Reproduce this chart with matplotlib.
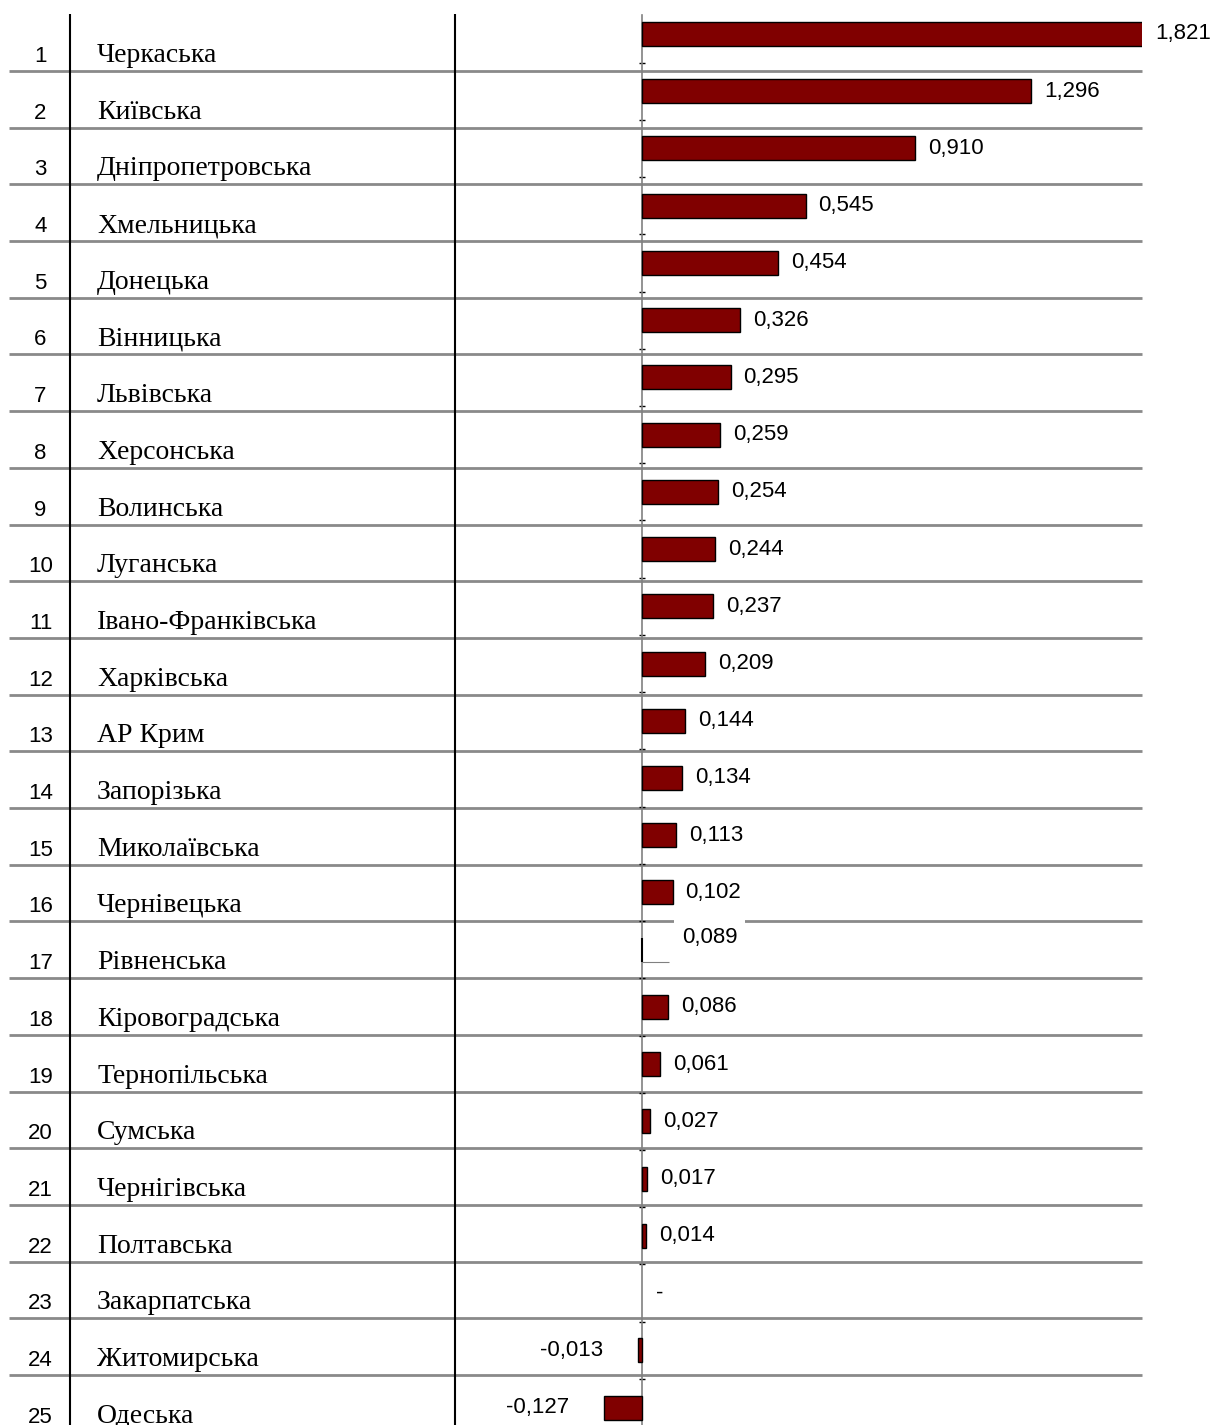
import matplotlib
matplotlib.use("Agg")
import matplotlib.pyplot as plt
import numpy as np

# ---------------- data ----------------
ranks = list(range(1, 26))
regions = ["Черкаська", "Київська", "Дніпропетровська", "Хмельницька", "Донецька",
           "Вінницька", "Львівська", "Херсонська", "Волинська", "Луганська",
           "Івано-Франківська", "Харківська", "АР Крим", "Запорізька", "Миколаївська",
           "Чернівецька", "Рівненська", "Кіровоградська", "Тернопільська", "Сумська",
           "Чернігівська", "Полтавська", "Закарпатська", "Житомирська", "Одеська"]
values = [1.821, 1.296, 0.910, 0.545, 0.454, 0.326, 0.295, 0.259, 0.254, 0.244,
          0.237, 0.209, 0.144, 0.134, 0.113, 0.102, 0.089, 0.086, 0.061, 0.027,
          0.017, 0.014, None, -0.013, -0.127]
hollow_regions = ["Рівненська"]   # bar rendered without fill in the original

# ---------------- layout ----------------
W, H = 1211, 1425
fig = plt.figure(figsize=(W / 100, H / 100), dpi=100)
fig.patch.set_facecolor("white")

serif = ["Liberation Serif", "DejaVu Serif"]
sans = ["Liberation Sans", "DejaVu Sans"]

n = len(regions)
# table axes: x in pixels, y in row units (row i spans [i, i+1])
row_top_px, row_h_px = 14.3, 56.7
tab = fig.add_axes([0, 0, 1, 1])
tab.set_xlim(0, W)
tab.set_ylim((H - row_top_px) / row_h_px, -row_top_px / row_h_px)
tab.axis("off")

grid_color = "#8a8a8a"
tab.hlines(np.arange(1, n), 9, 1142, color=grid_color, lw=2.0, zorder=1)
tab.vlines([70, 455], 0, (H - row_top_px) / row_h_px + 1, color="black", lw=1.5, zorder=2)

base_off = 9.0 / row_h_px
for i, (r, name) in enumerate(zip(ranks, regions)):
    yb = i + 1 - base_off
    tab.text(40.5, yb, str(r), ha="center", va="baseline", fontsize=16,
             family=sans, color="black")
    tab.text(97, yb, name, ha="left", va="baseline", fontsize=20,
             family=serif, color="black")

# bar axes
px_per_unit = 300.0
zero_px = 642
ax_left_px, ax_right_px = 455, 1142
bar_c0, bar_step = 34.0, 57.23
ax = fig.add_axes([ax_left_px / W, 0, (ax_right_px - ax_left_px) / W, 1])
ax.patch.set_visible(False)
xmin = -(zero_px - ax_left_px) / px_per_unit
xmax = (ax_right_px - zero_px) / px_per_unit
ax.set_xlim(xmin, xmax)
ytop = -bar_c0 / bar_step
ybot = (H - bar_c0) / bar_step
ax.set_ylim(ybot, ytop)

for s in ["top", "right", "bottom"]:
    ax.spines[s].set_visible(False)
ax.spines["left"].set_position(("data", 0))
ax.spines["left"].set_color("#808080")
ax.spines["left"].set_linewidth(1.2)
ax.spines["left"].set_bounds(ytop + 15 / bar_step, ybot)
ax.set_xticks([])
ax.set_yticks(np.arange(n - 1) + 0.5)
ax.tick_params(axis="y", direction="inout", length=5, width=1, color="black",
               labelleft=False)

idx = np.arange(n)
vals = np.array([np.nan if v is None else v for v in values], dtype=float)
bar_h = 24 / bar_step
has = ~np.isnan(vals)
face = ["none" if reg in hollow_regions else "#800000" for reg in regions]
edge = ["none" if reg in hollow_regions else "black" for reg in regions]
ax.barh(idx[has], vals[has], height=bar_h,
        color=[f for f, h in zip(face, has) if h],
        edgecolor=[e for e, h in zip(edge, has) if h],
        linewidth=1.0, zorder=3)

# hollow bar: only left edge and a thin bottom line visible
for i, reg in enumerate(regions):
    if reg in hollow_regions and has[i]:
        ax.vlines(0, i - bar_h / 2, i + bar_h / 2, color="black", lw=1.5, zorder=4)
        ax.hlines(i + bar_h / 2, 0, vals[i], color="#808080", lw=0.8, zorder=4)

box = dict(boxstyle="square,pad=0.35", fc="white", ec="none")
for i, v in enumerate(vals):
    if np.isnan(v):
        label, xv, off, ha = "-", 0.0, 14, "left"
    elif v >= 0:
        label, xv, off, ha = f"{v:.3f}".replace(".", ","), min(v, xmax), 13, "left"
    else:
        label, xv, off, ha = f"{v:.3f}".replace(".", ","), v, -35, "right"
    dy = 12 if regions[i] in hollow_regions else 0
    ax.annotate(label, xy=(xv, i), xytext=(off, dy), textcoords="offset pixels",
                ha=ha, va="center", fontsize=16, family=sans, color="black",
                bbox=box, annotation_clip=False, zorder=5)

fig.savefig("out.png", dpi=100, facecolor="white")
